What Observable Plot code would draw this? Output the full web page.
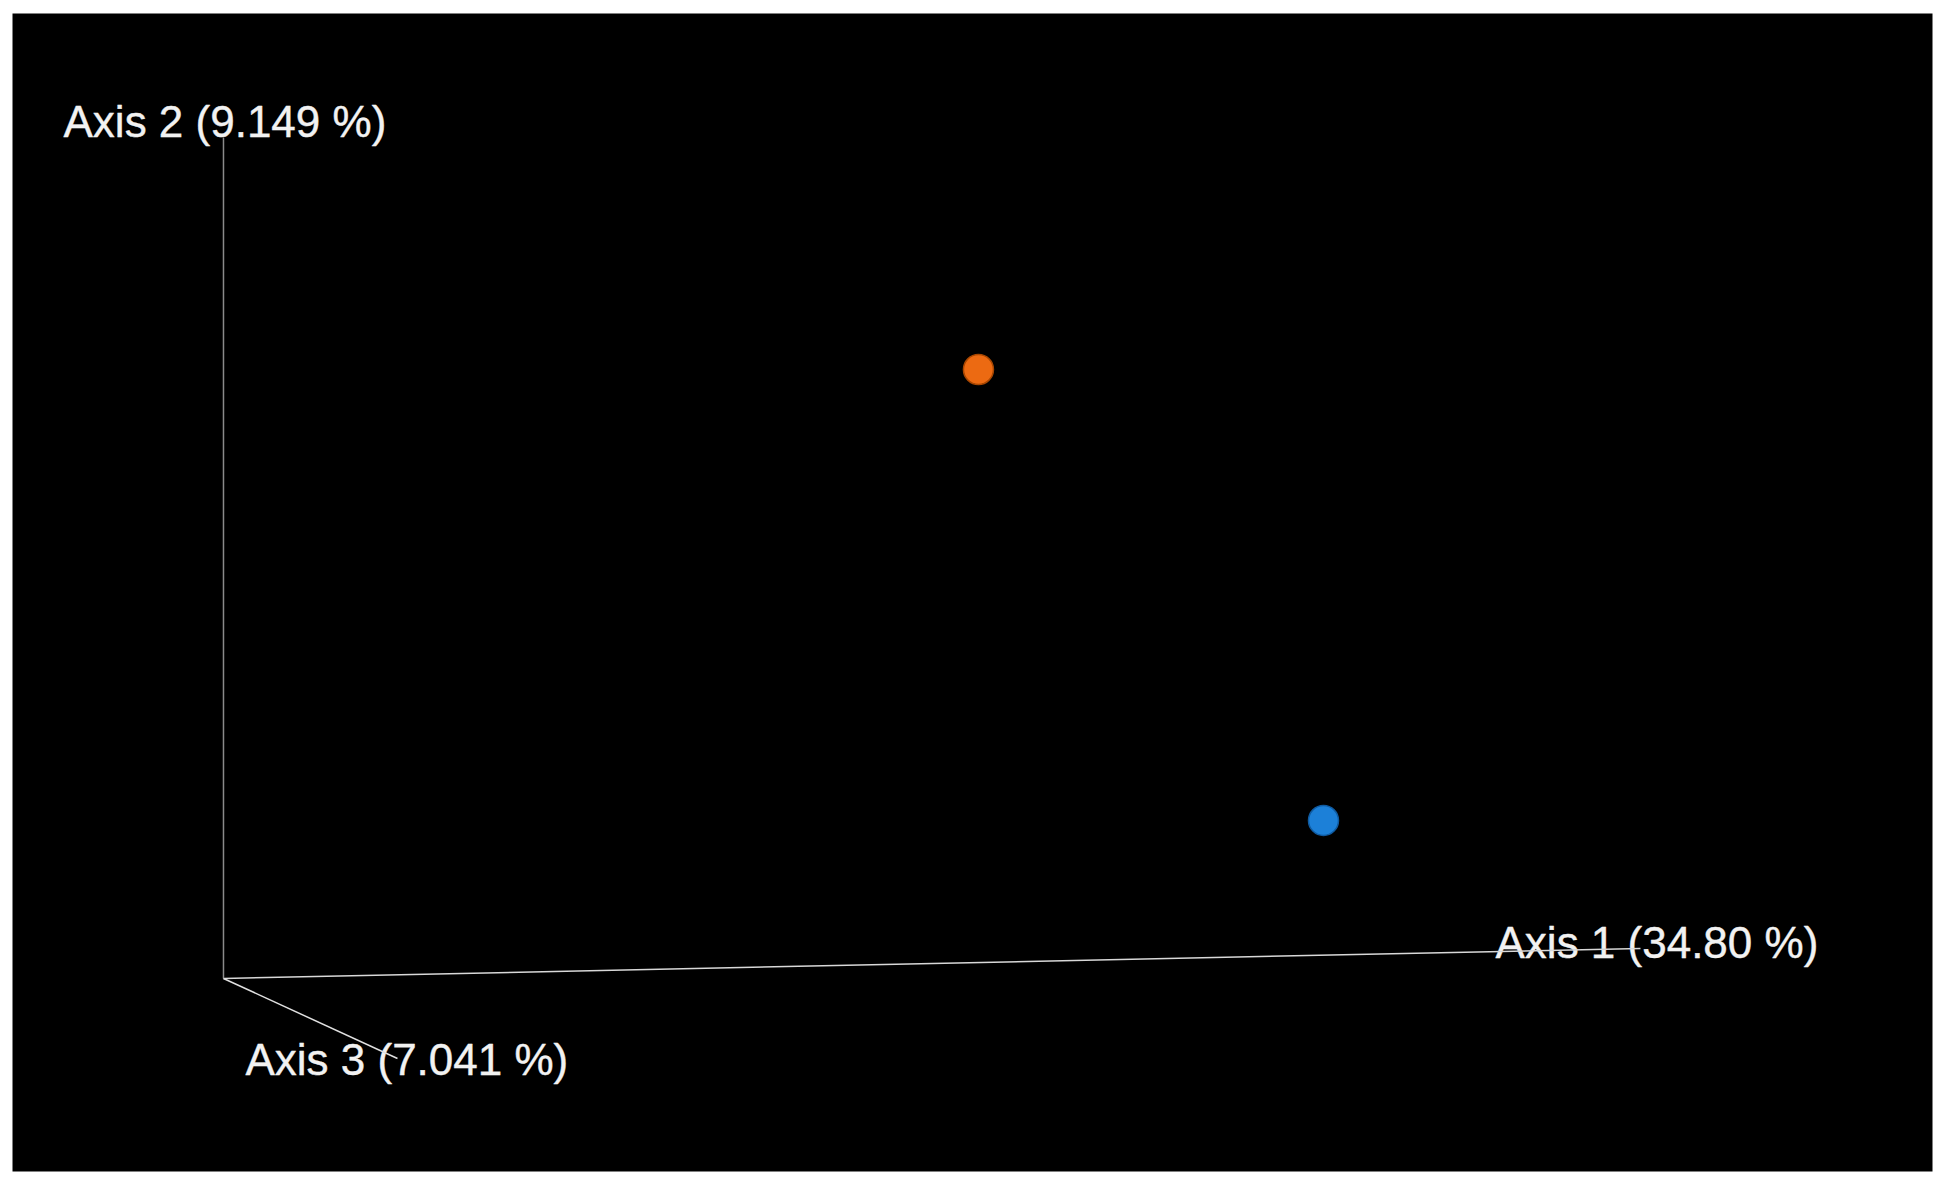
<!DOCTYPE html>
<html>
<head>
<meta charset="utf-8">
<script src="https://cdn.jsdelivr.net/npm/d3@7"></script>
<script src="https://cdn.jsdelivr.net/npm/@observablehq/plot@0.6"></script>
<style>
  html, body { margin: 0; padding: 0; background: #ffffff; }
  #chart { width: 1948px; height: 1189px; }
</style>
</head>
<body>
<div id="chart"></div>
<script>
// Axis names (percent variance explained)
const axisNames = ["Axis 1 (34.80 %)", "Axis 2 (9.149 %)", "Axis 3 (7.041 %)"];
// Projected axis end points (origin at 0,0), in projected chart units
const axisEndX = [1.0, 0.0, 0.1228];
const axisEndY = [0.0357, 1.0, -0.0951];
const axisStroke = ["#d8d8d8", "#8a8a8a", "#e0e0e0"];
// Label anchor points (projected units)
const labelX = [0.8977, -0.1129, 0.0155];
const labelY = [0.0238, 1.0, -0.1153];
// Samples (projected positions)
const sampleNames = ["Group A", "Group B"];
const sampleX = [0.5328, 0.7763];
const sampleY = [0.7241, 0.1879];
const sampleFill = ["#ec6a12", "#1c80d8"];
const sampleStroke = ["#a84600", "#0f5aa0"];

const axes = axisNames.map((name, i) => ({
  name, x1: 0, y1: 0, x2: axisEndX[i], y2: axisEndY[i],
  lx: labelX[i], ly: labelY[i], stroke: axisStroke[i]
}));
const samples = sampleNames.map((name, i) => ({
  name, x: sampleX[i], y: sampleY[i], fill: sampleFill[i], stroke: sampleStroke[i]
}));

const chart = Plot.plot({
  width: 1948,
  height: 1189,
  marginLeft: 12,
  marginRight: 16,
  marginTop: 13,
  marginBottom: 18,
  style: { background: "#ffffff", fontFamily: "'Liberation Sans', Arial, Helvetica, sans-serif" },
  x: { domain: [-0.1489, 1.2061], axis: null },
  y: { domain: [-0.2295, 1.1474], axis: null },
  marks: [
    Plot.frame({ fill: "black", stroke: "none" }),
    Plot.text(axes, {
      x: "lx", y: "ly", text: "name",
      textAnchor: "start", lineAnchor: "bottom",
      fill: "#f2f2f2", stroke: "#f2f2f2", strokeWidth: 0.4, fontSize: 44
    }),
    Plot.link(axes, {
      x1: "x1", y1: "y1", x2: "x2", y2: "y2",
      stroke: "stroke", strokeWidth: 1.5
    }),
    Plot.dot(samples, {
      x: "x", y: "y", r: 15,
      fill: "fill", stroke: "stroke", strokeWidth: 1.5
    })
  ]
});
document.getElementById("chart").append(chart);
</script>
</body>
</html>
